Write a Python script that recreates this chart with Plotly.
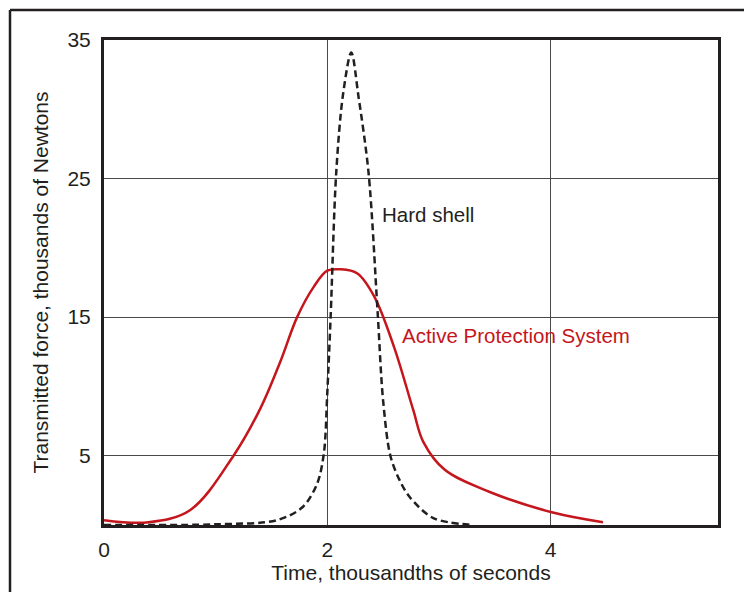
import plotly.graph_objects as go

# Hard shell (dashed black)
hard_x = [0, 1.0, 1.55, 1.78, 1.91, 1.97, 2.0, 2.03, 2.08, 2.14, 2.215, 2.28, 2.37, 2.45, 2.5, 2.565, 2.65, 2.74,
          2.95, 3.3]
hard_y = [0, 0.05, 0.35, 1.3, 3.0, 5.2, 9.5, 15, 25.4, 31, 34.1, 30.9, 25.4, 15.5, 9.0, 5.0, 3.2, 2.0, 0.5, 0.0]

# Active Protection System (red)
aps_x = [0, 0.4, 0.77, 1.16, 1.4, 1.58, 1.73, 1.88, 2.0, 2.12, 2.27, 2.42, 2.6, 2.77, 2.86, 3.05, 3.45, 4.02, 4.47]
aps_y = [0.35, 0.2, 1.07, 5.0, 8.4, 11.8, 15.0, 17.2, 18.35, 18.45, 18.15, 16.5, 12.8, 8.3, 6.0, 4.0, 2.4, 0.9, 0.2]

x_ticks = [0, 2, 4]
y_ticks = [5, 15, 25, 35]

RED = "#c4161c"
DARK = "#231f20"
FONT = "Liberation Sans, Arial, sans-serif"
FS = 21

fig = go.Figure()
fig.add_trace(go.Scatter(x=aps_x, y=aps_y, mode="lines",
                         line=dict(color=RED, width=2.5, shape="spline", smoothing=1.0),
                         showlegend=False, hoverinfo="skip"))
fig.add_trace(go.Scatter(x=hard_x, y=hard_y, mode="lines",
                         line=dict(color=DARK, width=2.5, dash="7px,4px", shape="spline", smoothing=0.9),
                         showlegend=False, hoverinfo="skip"))

fig.add_annotation(x=2.475, y=22.4, text="Hard shell", showarrow=False, xanchor="left", yanchor="middle",
                   font=dict(family=FONT, size=20.5, color=DARK))
fig.add_annotation(x=2.655, y=13.66, text="Active Protection System", showarrow=False, xanchor="left",
                   yanchor="middle", font=dict(family=FONT, size=20.5, color=RED))

# page has an 8px body margin, so the figure is 744x584
W, H = 744, 584
L, R, T, B = 96, 34, 32, 67
pw, ph = W - L - R, H - T - B
def px(x):
    return (x - L) / pw
def py(y):
    return (H - B - y) / ph
fig.add_shape(type="line", xref="paper", yref="paper", x0=px(2), x1=px(W + 4), y0=py(2), y1=py(2),
              line=dict(color=DARK, width=2.5))
fig.add_shape(type="line", xref="paper", yref="paper", x0=px(2), x1=px(2), y0=py(2), y1=py(H + 4),
              line=dict(color=DARK, width=2.5))

fig.update_xaxes(range=[0, 5.5], tickvals=x_ticks, showgrid=True, gridcolor="#4a4a4a", gridwidth=1.2,
                 zeroline=False, showline=True, linecolor=DARK, linewidth=3, mirror=True, ticks="",
                 tickfont=dict(family=FONT, size=FS, color=DARK), ticklabelstandoff=4,
                 title=dict(text="Time, thousandths of seconds", font=dict(family=FONT, size=FS, color=DARK),
                            standoff=6))
fig.update_yaxes(range=[0, 35], tickvals=y_ticks, showgrid=True, gridcolor="#4a4a4a", gridwidth=1.2,
                 zeroline=False, showline=True, linecolor=DARK, linewidth=3, mirror=True, ticks="",
                 tickfont=dict(family=FONT, size=FS, color=DARK), ticklabelstandoff=6,
                 title=dict(text="Transmitted force, thousands of Newtons",
                            font=dict(family=FONT, size=FS, color=DARK), standoff=14))

fig.update_layout(width=W, height=H, margin=dict(l=L, r=R, t=T, b=B, autoexpand=False),
                  paper_bgcolor="white", plot_bgcolor="white")

fig.write_html("out.html")
